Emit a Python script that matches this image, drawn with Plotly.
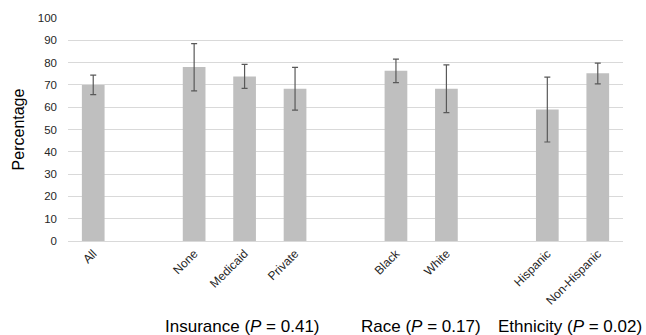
import plotly.graph_objects as go

# Data
categories = ["All", "None", "Medicaid", "Private", "Black", "White", "Hispanic", "Non-Hispanic"]
slot_order = ["All", " ", "None", "Medicaid", "Private", "  ", "Black", "White", "   ", "Hispanic", "Non-Hispanic"]
values = [70.0, 78.0, 73.8, 68.3, 76.3, 68.3, 59.0, 75.2]
err_plus = [4.4, 10.5, 5.4, 9.6, 5.3, 10.7, 14.5, 4.6]
err_minus = [4.4, 10.7, 5.4, 9.6, 5.3, 10.7, 14.6, 4.7]
y_ticks = [0, 10, 20, 30, 40, 50, 60, 70, 80, 90, 100]
group_labels = ["Insurance (<i>P</i> = 0.41)", "Race (<i>P</i> = 0.17)", "Ethnicity (<i>P</i> = 0.02)"]

FONT = "Liberation Sans, Arial, sans-serif"

fig = go.Figure()
fig.add_trace(go.Bar(
    x=categories,
    y=values,
    marker=dict(color="#BFBFBF", line=dict(width=0)),
    width=0.45,
    error_y=dict(type="data", symmetric=False, array=err_plus, arrayminus=err_minus,
                 color="#595959", thickness=1.2, width=3),
    showlegend=False,
    hoverinfo="skip",
))

fig.update_layout(
    width=646, height=335,
    margin=dict(l=68, r=23, t=18, b=94, autoexpand=False),
    paper_bgcolor="white", plot_bgcolor="white",
    font=dict(family=FONT, color="#262626"),
)
fig.update_xaxes(
    type="category", categoryorder="array", categoryarray=slot_order,
    range=[-0.5, len(slot_order) - 0.5],
    tickangle=-45, tickfont=dict(size=12, color="#262626"),
    showgrid=False, showline=True, linecolor="#D9D9D9", linewidth=1,
    ticks="", fixedrange=True, automargin=False,
)
fig.update_yaxes(
    range=[0, 100], tickvals=y_ticks, ticktext=[str(v) for v in y_ticks],
    tickfont=dict(size=11.5, color="#262626"),
    showgrid=True, gridcolor="#D9D9D9", gridwidth=1,
    zeroline=False, showline=False, ticks="", ticklabelstandoff=10,
    automargin=False, fixedrange=True,
    title=dict(text="Percentage", font=dict(size=16, color="#000000"), standoff=9),
)

group_x = [0.315, 0.636, 1.038]
group_anchor = ["center", "center", "right"]
for txt, gx, anc in zip(group_labels, group_x, group_anchor):
    fig.add_annotation(
        text=txt, x=gx, y=-0.385, xref="paper", yref="paper",
        xanchor=anc, yanchor="middle", showarrow=False,
        font=dict(size=17, color="#000000", family=FONT),
    )

fig.write_html("out.html", config={"displayModeBar": False},
               post_script="document.body.style.margin='0';")
